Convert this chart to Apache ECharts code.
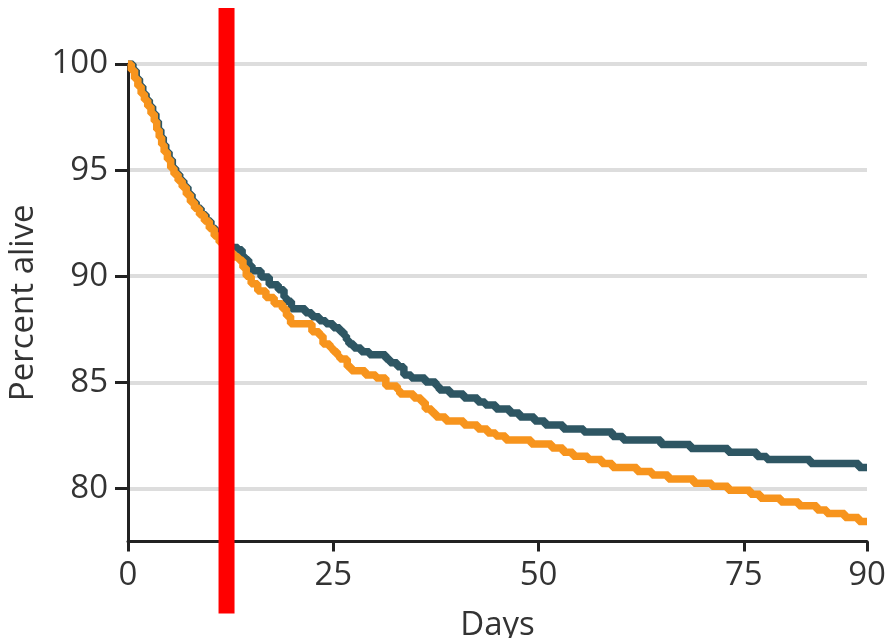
<!DOCTYPE html>
<html><head><meta charset="utf-8">
<script src="https://cdn.jsdelivr.net/npm/echarts@6/dist/echarts.min.js"></script>
<style>html,body{margin:0;padding:0;background:#fff}#c{width:887px;height:638px}</style>
</head><body><div id="c"></div>
<script>
const xTicks = [0, 25, 50, 75, 90];
const yTicks = [80, 85, 90, 95, 100];
const markerDay = 12;

const tealDays = [0,0.6,1.0,1.4,1.8,2.2,2.6,3.0,3.4,3.7,4.0,4.3,4.6,5.0,5.4,5.8,6.3,6.8,7.3,7.8,8.3,8.9,9.5,10.1,10.7,11.3,11.9,12.6,13.4,13.9,14.2,14.7,15.1,16.2,17.2,18.3,19.0,19.3,19.9,21.6,22.4,23.3,24.1,25.0,25.8,26.3,26.6,26.9,27.5,28.4,29.4,31.4,31.9,32.8,33.6,34.5,36.2,37.5,37.9,39.2,40.9,42.6,43.5,44.8,46.5,47.7,49.5,50.8,53.0,55.5,59.0,60.3,64.9,68.5,73.1,76.6,77.8,83.1,89.0,90];
const tealValues = [100,99.7,99.3,98.95,98.6,98.3,98.0,97.65,97.3,96.9,96.55,96.2,95.85,95.5,95.1,94.8,94.5,94.2,93.85,93.5,93.2,92.9,92.6,92.25,91.95,91.7,91.5,91.35,91.25,90.95,90.78,90.5,90.26,89.96,89.6,89.36,89.01,88.82,88.47,88.28,88.09,87.9,87.76,87.57,87.38,87.19,87.0,86.81,86.62,86.44,86.3,86.1,85.92,85.73,85.35,85.21,85.02,84.83,84.64,84.45,84.26,84.07,83.93,83.74,83.56,83.37,83.18,82.99,82.8,82.66,82.45,82.28,82.07,81.88,81.7,81.5,81.36,81.18,80.99,80.99];

const orangeDays = [0,0.4,0.8,1.2,1.6,2.0,2.4,2.8,3.2,3.5,3.8,4.1,4.4,4.8,5.2,5.6,6.1,6.6,7.1,7.6,8.1,8.7,9.3,9.9,10.5,11.1,11.7,12.3,12.9,13.5,14.0,14.4,15.0,15.8,16.8,17.8,18.8,19.3,19.8,22.4,23.3,23.75,24.6,25.0,25.5,25.8,26.7,27.2,28.9,30.2,31.4,32.8,33.1,34.8,35.7,36.2,37.0,37.5,38.7,40.9,42.6,43.8,44.8,46.0,49.1,51.6,53.0,54.2,56.0,57.7,59.0,62.0,63.8,65.8,68.9,71.1,73.1,75.8,77.0,79.5,81.7,83.9,85.1,87.3,89.0,90];
const orangeValues = [100,99.7,99.3,98.95,98.6,98.3,98.0,97.65,97.3,96.9,96.55,96.2,95.85,95.5,95.1,94.8,94.5,94.2,93.85,93.5,93.2,92.9,92.6,92.25,91.9,91.6,91.35,91.1,90.9,90.75,90.4,90.0,89.65,89.3,89.0,88.7,88.47,88.12,87.76,87.38,87.19,86.81,86.62,86.44,86.25,86.1,85.73,85.54,85.35,85.21,84.83,84.64,84.45,84.26,84.07,83.74,83.56,83.37,83.18,82.99,82.8,82.61,82.47,82.28,82.09,81.9,81.71,81.52,81.36,81.18,80.99,80.8,80.63,80.44,80.25,80.1,79.92,79.73,79.54,79.36,79.18,78.98,78.82,78.63,78.44,78.44];

const FONT = 'Open Sans';
const TXT = '#333333';
const Y_MIN = 77.5, Y_MAX = 100;

const chart = echarts.init(document.getElementById('c'), null, {renderer: 'canvas'});
chart.setOption({
  animation: false,
  backgroundColor: '#ffffff',
  grid: {left: 128, right: 20, top: 64, bottom: 96.5, containLabel: false, outerBoundsMode: 'none'},
  xAxis: {
    type: 'value', min: 0, max: 90, interval: 25, z: 5,
    name: 'Days', nameLocation: 'middle', nameGap: 68,
    nameTextStyle: {fontFamily: FONT, fontSize: 33, color: TXT},
    axisLine: {onZero: false, lineStyle: {color: '#222222', width: 3}},
    axisTick: {show: true, length: 10, lineStyle: {color: '#222222', width: 3}, customValues: xTicks},
    axisLabel: {fontFamily: FONT, fontSize: 33, color: TXT, margin: 18, customValues: xTicks},
    splitLine: {show: false}
  },
  yAxis: {
    type: 'value', min: Y_MIN, max: Y_MAX,
    name: 'Percent alive', nameLocation: 'middle', nameGap: 72,
    nameTextStyle: {fontFamily: FONT, fontSize: 33, color: TXT},
    axisLine: {show: true, lineStyle: {color: '#222222', width: 3}},
    axisTick: {show: true, length: 13, lineStyle: {color: '#222222', width: 3}, customValues: yTicks},
    axisLabel: {fontFamily: FONT, fontSize: 33, color: TXT, margin: 20, customValues: yTicks},
    splitLine: {show: true, lineStyle: {color: '#dddddd', width: 4}}
  },
  series: [
    {
      type: 'line', step: 'end', showSymbol: false, z: 2,
      data: tealDays.map((d, i) => [d, tealValues[i]]),
      lineStyle: {color: '#2e5663', width: 7.5}
    },
    {
      type: 'line', step: 'end', showSymbol: false, z: 3,
      data: orangeDays.map((d, i) => [d, orangeValues[i]]),
      lineStyle: {color: '#f7941d', width: 7.5}
    },
    {
      type: 'custom', z: 10, clip: false, silent: true,
      data: [[markerDay, Y_MAX]],
      renderItem: function (params, api) {
        const top = api.coord([api.value(0), Y_MAX]);
        const bot = api.coord([api.value(0), Y_MIN]);
        return {
          type: 'rect',
          shape: {x: top[0] - 8, y: top[1] - 56, width: 16, height: (bot[1] - top[1]) + 128},
          style: {fill: '#ff0000'}
        };
      }
    }
  ]
});
</script>
</body></html>
